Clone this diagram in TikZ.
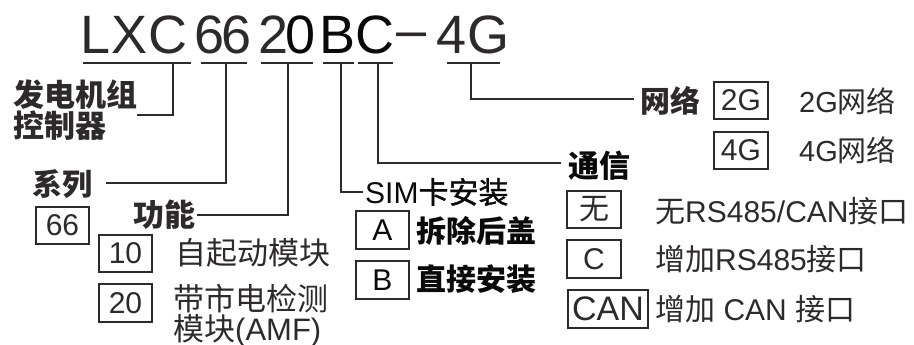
\documentclass[tikz,border=0pt]{standalone}
\usepackage{fontspec}
\setmainfont{Liberation Sans}
\newfontfamily\cjk{Noto Sans CJK SC}
\newfontfamily\cjkm[FakeBold=1.2]{Noto Sans CJK SC}
\newcommand\zhtxt[1]{{\cjk #1}}
\definecolor{dk}{HTML}{2E2A2B}
\definecolor{bk}{HTML}{0A0A0A}
\begin{document}
\begin{tikzpicture}[x=1pt,y=-1pt,
  tch/.style={anchor=base, inner sep=0, text=dk, font=\fontsize{54}{54}\selectfont},
  tchb/.style={tch, text=bk},
  ln/.style={draw=dk, line width=2pt},
  bx/.style={draw=dk, line width=1.6pt, inner sep=0, minimum width=53pt, minimum height=37pt, text=dk, font=\fontsize{30}{30}\selectfont},
  hd/.style={anchor=west, inner sep=0, text=dk, font=\cjk\bfseries\fontsize{31}{31}\selectfont},
  opt/.style={anchor=west, inner sep=0, text=dk, font=\fontsize{30}{30}\selectfont},
  optb/.style={anchor=west, inner sep=0, text=bk, font=\cjk\bfseries\fontsize{30}{30}\selectfont},
]
\useasboundingbox (0,0) rectangle (914,345);
% title characters
\node[tch]  (t1)  at (96,54)  {L};
\node[tch]  (t2)  at (130,54) {X};
\node[tch]  (t3)  at (168,54) {C};
\node[tch]  (t4)  at (210,54) {6};
\node[tch]  (t5)  at (237,54) {6};
\node[tch]  (t6)  at (274,54) {2};
\node[tchb] (t7)  at (301,54) {0};
\node[tchb] (t8)  at (338,54) {B};
\node[tchb] (t9)  at (375,54) {C};
\node[tch]  (t10) at (412,49) {–};
\node[tch]  (t11) at (452,54) {4};
\node[tch]  (t12) at (488,54) {G};
% underlines
\draw[ln] (83,63) -- (191,63);
\draw[ln] (201,63) -- (247,63);
\draw[ln] (261,63) -- (313,63);
\draw[ln] (323,63) -- (354,63);
\draw[ln] (358,63) -- (393,63);
\draw[ln] (447,63) -- (500,63);
% stems
\coordinate (s1) at (173,63);
\coordinate (s2) at (226,63);
\coordinate (s3) at (288,63);
\coordinate (s4) at (341,63);
\coordinate (s5) at (378,63);
\coordinate (s6) at (471,63);
% labels
\node[hd, align=left] (ctl) at (13,110.5) {发电机组\\控制器};
\node[hd, font=\cjk\bfseries\fontsize{30}{30}\selectfont] (ser) at (32,184) {系列};
\node[hd] (fun) at (133,215) {功能};
\node[opt, text=bk] (sim) at (365,192) {SIM{\cjkm 卡安装}};
\node[hd, text=bk] (com) at (568,166) {通信};
\node[hd, font=\cjk\bfseries\fontsize{30}{30}\selectfont] (net) at (640,101) {网络};
% connector ends
\coordinate (e1) at (137,115);
\coordinate (e2) at (106,183);
\coordinate (e3) at ([xshift=2pt]fun.east);
\coordinate (e4) at (363,192);
\coordinate (e5) at (561,163);
\coordinate (e6) at (634,99);
\draw[ln] (s1) |- (e1);
\draw[ln] (s2) |- (e2);
\draw[ln] (s3) |- (e3);
\draw[ln] (s4) |- (e4);
\draw[ln] (s5) |- (e5);
\draw[ln] (s6) |- (e6);
% boxes
\node[bx] (b66) at (62.5,225.5) {66};
\node[bx] (b10) at (125.5,253.5) {10};
\node[bx, minimum height=38pt] (b20) at (125.5,303) {20};
\node[bx, minimum height=38pt, text=bk] (bA) at (382.5,230) {A};
\node[bx, minimum height=38pt, text=bk] (bB) at (382.5,280) {B};
\node[bx, minimum width=54pt] (b2G) at (741,100.5) {2G};
\node[bx, minimum width=54pt] (b4G) at (741,150.5) {4G};
\node[bx, minimum width=54pt, font=\cjk\fontsize{30}{30}\selectfont] (bwu) at (594,209.5) {无};
\node[bx, minimum width=54pt, minimum height=38pt] (bC) at (594,259) {C};
\node[bx, minimum width=80pt, minimum height=38pt, font=\fontsize{34}{34}\selectfont] (bCAN) at (608,309) {CAN};
% option texts
\node[opt, font=\cjk\fontsize{31}{31}\selectfont] (o10) at (175,253) {自起动模块};
\node[opt, align=left, font=\cjk\fontsize{31}{30}\selectfont] (o20) at (173,316) {带市电检测\\模块{\rmfamily(AMF)}};
\node[optb] (oA) at (416,231) {拆除后盖};
\node[optb] (oB) at (416,279) {直接安装};
\node[opt, font=\fontsize{29}{29}\selectfont] (o2G) at (799,101) {2G\zhtxt{网络}};
\node[opt, font=\fontsize{29}{29}\selectfont] (o4G) at (799,150) {4G\zhtxt{网络}};
\node[opt] (owu) at (655,211) {\zhtxt{无}RS485/CAN\zhtxt{接口}};
\node[opt] (oC) at (655,259) {\zhtxt{增加}RS485\zhtxt{接口}};
\node[opt] (oCAN) at (655,309) {\zhtxt{增加} CAN \zhtxt{接口}};
\end{tikzpicture}
\end{document}
